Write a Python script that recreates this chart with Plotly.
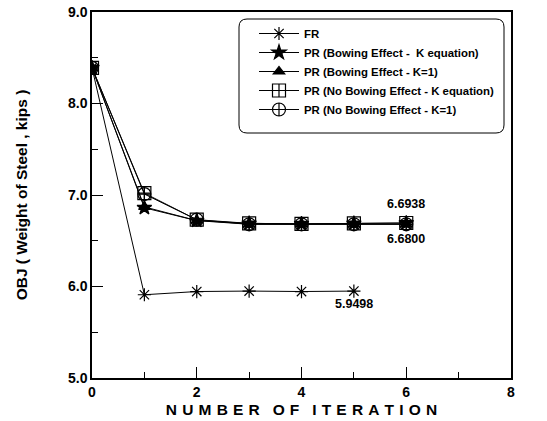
import plotly.graph_objects as go

iters_fr = [0, 1, 2, 3, 4, 5]
iters_pr = [0, 1, 2, 3, 4, 5, 6]
fr = [8.39, 5.91, 5.945, 5.95, 5.945, 5.9498]
pr_bow_keq = [8.39, 6.86, 6.72, 6.69, 6.685, 6.69, 6.6938]
pr_bow_k1 = [8.39, 6.87, 6.72, 6.68, 6.68, 6.68, 6.68]
pr_nobow_keq = [8.39, 7.02, 6.73, 6.69, 6.685, 6.69, 6.6938]
pr_nobow_k1 = [8.39, 7.01, 6.73, 6.68, 6.68, 6.68, 6.68]

names = ["FR", "PR (Bowing Effect -  K equation)", "PR (Bowing Effect - K=1)",
         "PR (No Bowing Effect - K equation)", "PR (No Bowing Effect - K=1)"]
symbols = ["asterisk-open", "star", "triangle-up", "square-cross-open", "circle-cross-open"]
sizes = [11, 11, 10, 13, 13]
series = [(iters_fr, fr), (iters_pr, pr_bow_keq), (iters_pr, pr_bow_k1),
          (iters_pr, pr_nobow_keq), (iters_pr, pr_nobow_k1)]

font_fam = "Arial, Liberation Sans, sans-serif"

fig = go.Figure()
for (x, y), n, s, sz in zip(series, names, symbols, sizes):
    fig.add_trace(go.Scatter(
        x=x, y=y, name=n, mode="lines+markers",
        line=dict(color="black", width=1),
        marker=dict(symbol=s, size=sz, color="black", line=dict(color="black", width=1.2)),
    ))

annots = [(6, 6.90, "6.6938"), (6, 6.52, "6.6800"), (5, 5.81, "5.9498")]
for ax, ay, t in annots:
    fig.add_annotation(x=ax, y=ay, text=t, showarrow=False,
                       font=dict(family=font_fam, size=12.5, color="black", weight="bold"))

W, H = 547, 421
L, R, T, B = 92, 36, 12, 43
pw, ph = W - L - R, H - T - B
def px(v): return (v - L) / pw
def py(v): return (H - B - v) / ph
x0, x1 = px(239), px(504)
y0, y1 = py(19), py(133)
rx, ry = 8 / pw, 8 / ph
path = (f"M {x0+rx},{y0} L {x1-rx},{y0} Q {x1},{y0} {x1},{y0-ry} "
        f"L {x1},{y1+ry} Q {x1},{y1} {x1-rx},{y1} L {x0+rx},{y1} "
        f"Q {x0},{y1} {x0},{y1+ry} L {x0},{y0-ry} Q {x0},{y0} {x0+rx},{y0} Z")
fig.add_shape(type="path", path=path, xref="paper", yref="paper",
              line=dict(color="black", width=1), fillcolor="rgba(0,0,0,0)")

gap = "\u2004"
wgap = "\u2002\u2004"
xtitle = wgap.join(gap.join(w) for w in ["NUMBER", "OF", "ITERATION"])

fig.update_layout(
    width=W, height=H,
    margin=dict(l=L, r=R, t=T, b=B, autoexpand=False),
    plot_bgcolor="white", paper_bgcolor="white",
    font=dict(family=font_fam, color="black", size=12),
    showlegend=True,
    legend=dict(x=px(254), y=py(19), xanchor="left", yanchor="top",
                bgcolor="rgba(0,0,0,0)", borderwidth=0,
                font=dict(family=font_fam, size=11.4, color="black", weight="bold"),
                tracegroupgap=0, itemwidth=40),
    xaxis=dict(range=[0, 8], dtick=2, tick0=0, showline=True, linecolor="black", linewidth=1.5,
               mirror=True, ticks="inside", ticklen=11, tickcolor="black", tickwidth=1.2,
               showgrid=False, zeroline=False, automargin=False,
               minor=dict(dtick=1, ticks="inside", ticklen=6, tickcolor="black", tickwidth=1.2),
               tickfont=dict(family=font_fam, size=14, weight="bold"),
               title=dict(text=xtitle, standoff=6,
                          font=dict(family=font_fam, size=15.5, weight="bold"))),
    yaxis=dict(range=[5, 9], dtick=1, tick0=5, tickformat=".1f", showline=True, linecolor="black",
               linewidth=1.5, mirror=True, ticks="inside", ticklen=11, tickcolor="black", tickwidth=1.2,
               showgrid=False, zeroline=False, automargin=False,
               minor=dict(dtick=0.5, ticks="inside", ticklen=6, tickcolor="black", tickwidth=1.2),
               tickfont=dict(family=font_fam, size=14, weight="bold"),
               title=dict(text="OBJ ( Weight of Steel , kips )", standoff=37,
                          font=dict(family=font_fam, size=15.5, weight="bold"))),
)

fig.write_html("out.html", config={"displayModeBar": False},
               post_script="document.body.style.margin='0';")
